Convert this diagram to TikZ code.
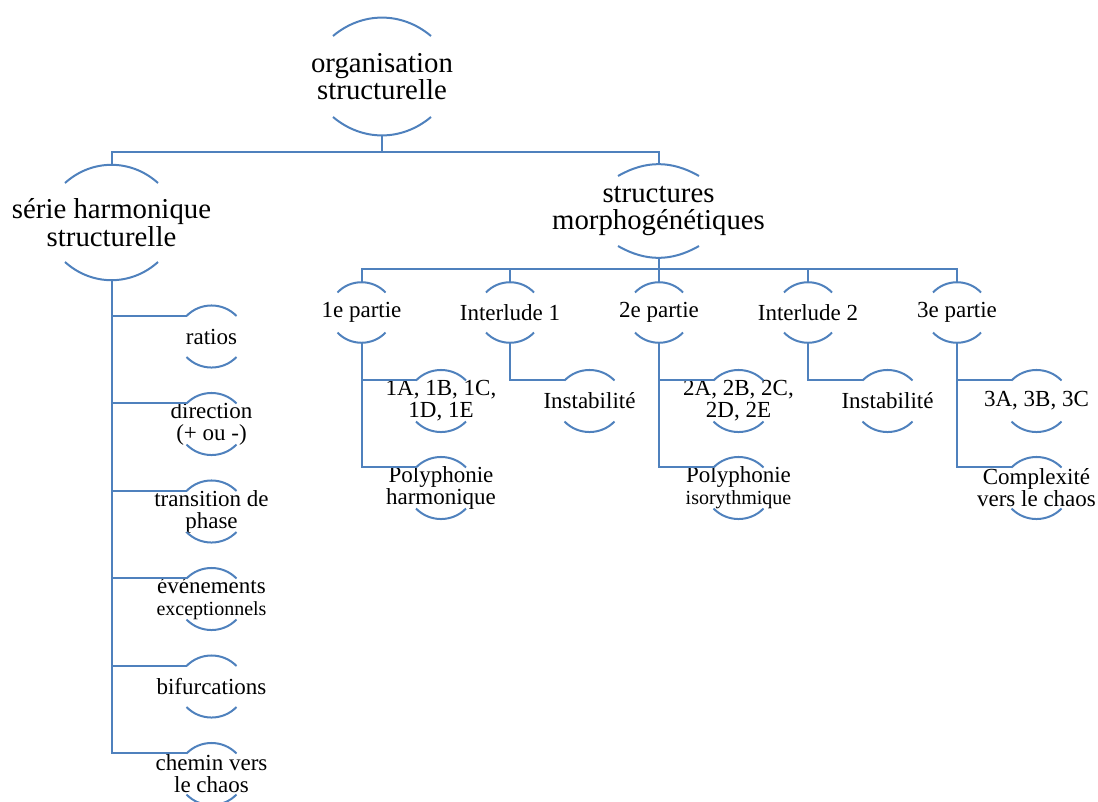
\documentclass[tikz,border=0pt]{standalone}
\usepackage{fontspec}
\setmainfont{Liberation Serif}
\usepackage{xcolor}
\usepackage{tikz}
\definecolor{arcblue}{RGB}{79,129,189}

\begin{document}
\begin{tikzpicture}[
  x=1pt, y=-1pt,
  arcline/.style={draw=arcblue, line width=2pt},
  link/.style={draw=arcblue, line width=2pt},
  % half width / half height / sag / bend angle
  arcnode/.style n args={4}{inner sep=0pt, align=center, minimum width=2*#1pt, minimum height=2*#2pt,
    append after command={\pgfextra{\let\arcn\tikzlastnode}
      ([shift={(-#1pt,#2pt-#3pt)}]\arcn.center) edge[arcline, bend left=#4] ([shift={(#1pt,#2pt-#3pt)}]\arcn.center)
      ([shift={(-#1pt,#3pt-#2pt)}]\arcn.center) edge[arcline, bend right=#4] ([shift={(#1pt,#3pt-#2pt)}]\arcn.center)}},
  rootbox/.style={arcnode={49}{58.5}{18}{40}, font=\fontsize{28.8}{27.5}\selectfont},
  seriebox/.style={arcnode={46.5}{57.5}{18}{42}, font=\fontsize{28.8}{27.5}\selectfont},
  morphobox/.style={arcnode={40.5}{46}{11}{30}, font=\fontsize{28.8}{27.5}\selectfont},
  partbox/.style={arcnode={24}{30.5}{10.5}{47}, font=\fontsize{23}{22}\selectfont},
  leafbox/.style={arcnode={25}{31}{10.5}{46}, font=\fontsize{23}{22}\selectfont}
]
  \useasboundingbox (0,0) rectangle (1098,801);

  \node[rootbox] (root) at (382,76.5) {organisation\\structurelle};
  \node[seriebox] (serie) at (111.5,222.5) {série harmonique\\structurelle};
  \node[morphobox] (morpho) at (658.5,211) {structures\\morphogénétiques};

  % série harmonique
  \node[leafbox] (ratios) at (211.5,336.5) {ratios};
  \node[leafbox] (direction) at (211.5,424) {direction\\(+ ou -)};
  \node[leafbox] (transition) at (211.5,511.5) {transition de\\phase};
  \node[leafbox] (evenements) at (211.5,599) {événements\\{\fontsize{20}{22}\selectfont exceptionnels}};
  \node[leafbox] (bifurcations) at (211.5,686.5) {bifurcations};
  \node[leafbox] (chemin) at (211.5,774) {chemin vers\\le chaos};

  % structures morphogénétiques
  \node[partbox] (part1) at (361.5,312.5) {1e partie};
  \node[partbox] (inter1) at (510,312.5) {Interlude 1};
  \node[partbox] (part2) at (659,312.5) {2e partie};
  \node[partbox] (inter2) at (808,312.5) {Interlude 2};
  \node[partbox] (part3) at (957,312.5) {3e partie};

  \node[leafbox] (sect1) at (441,401) {1A, 1B, 1C,\\1D, 1E};
  \node[leafbox] (poly1) at (441,488) {Polyphonie\\harmonique};
  \node[leafbox] (inst1) at (589.5,401) {Instabilité};
  \node[leafbox] (sect2) at (738.5,401) {2A, 2B, 2C,\\2D, 2E};
  \node[leafbox] (poly2) at (738.5,488) {Polyphonie\\{\fontsize{20}{22}\selectfont isorythmique}};
  \node[leafbox] (inst2) at (887.5,401) {Instabilité};
  \node[leafbox] (sect3) at (1036.5,401) {3A, 3B, 3C};
  \node[leafbox] (chaos3) at (1036.5,488) {Complexité\\vers le chaos};

  % connecteurs
  \draw[link] (root.south) -- ++(0,17) coordinate (bar0);
  \draw[link] (serie.north) |- (bar0) -| (morpho.north);
  \draw[link] (morpho.south) -- ++(0,12) coordinate (bar1);
  \draw[link] (part1.north) |- (bar1) -| (part3.north);
  \draw[link] (inter1.north) -- (inter1.north |- bar1);
  \draw[link] (part2.north) -- (part2.north |- bar1);
  \draw[link] (inter2.north) -- (inter2.north |- bar1);

  \draw[link] (serie.south) |- ([xshift=-25pt,yshift=-10.5pt]ratios.north);
  \draw[link] (serie.south) |- ([xshift=-25pt,yshift=-10.5pt]direction.north);
  \draw[link] (serie.south) |- ([xshift=-25pt,yshift=-10.5pt]transition.north);
  \draw[link] (serie.south) |- ([xshift=-25pt,yshift=-10.5pt]evenements.north);
  \draw[link] (serie.south) |- ([xshift=-25pt,yshift=-10.5pt]bifurcations.north);
  \draw[link] (serie.south) |- ([xshift=-25pt,yshift=-10.5pt]chemin.north);

  \draw[link] (part1.south) |- ([xshift=-25pt,yshift=-10.5pt]sect1.north);
  \draw[link] (part1.south) |- ([xshift=-25pt,yshift=-10.5pt]poly1.north);
  \draw[link] (inter1.south) |- ([xshift=-25pt,yshift=-10.5pt]inst1.north);
  \draw[link] (part2.south) |- ([xshift=-25pt,yshift=-10.5pt]sect2.north);
  \draw[link] (part2.south) |- ([xshift=-25pt,yshift=-10.5pt]poly2.north);
  \draw[link] (inter2.south) |- ([xshift=-25pt,yshift=-10.5pt]inst2.north);
  \draw[link] (part3.south) |- ([xshift=-25pt,yshift=-10.5pt]sect3.north);
  \draw[link] (part3.south) |- ([xshift=-25pt,yshift=-10.5pt]chaos3.north);
\end{tikzpicture}
\end{document}
